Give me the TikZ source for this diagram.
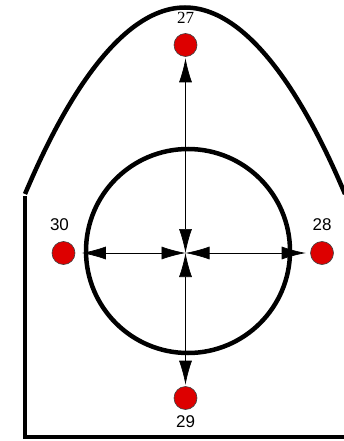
\documentclass[tikz,border=0pt]{standalone}
\usepackage{fontspec}
\setmainfont{Liberation Sans}
\newfontfamily\serifnum{Liberation Serif}
\usetikzlibrary{arrows.meta}
\definecolor{dotred}{RGB}{221,0,0}

\begin{document}
\begin{tikzpicture}[x=1pt, y=-1pt,
    dot/.style={circle, draw=black!75, line width=0.6pt, fill=dotred, minimum size=23pt, inner sep=0pt},
    flow/.style={{Latex[length=24pt,width=13pt]}-{Latex[length=24pt,width=13pt]}, line width=0.7pt, shorten >=1.5pt},
    lbl/.style={inner sep=0pt, font=\fontsize{17}{17}\selectfont},
    wall/.style={line width=4.5pt}]
    % --- 画布范围 (按像素, y 向下) ---
    \clip (0,0) rectangle (344,441);

    % --- 外轮廓 ---
    % 顶部拱形 (抛物线)
    \draw[wall] (25,194) parabola bend (185,7.5) (345,194);
    % 左侧与底边
    \draw[wall, line join=miter] (25,196) -- (25,437) -- (350,437);

    % --- 中间圆 ---
    \draw[wall] (188,251) circle (102);

    % --- 四个测点 ---
    \node[dot, label={[lbl, font=\serifnum\fontsize{17}{17}\selectfont, label distance=9pt]above:27}] (n27) at (185.5,45) {};
    \node[dot, label={[lbl, xshift=-4pt, label distance=10pt]above:30}] (n30) at (63.5,253) {};
    \node[dot, label={[lbl, label distance=10pt]above:28}] (n28) at (322,253) {};
    \node[dot, label={[lbl, label distance=6pt]below:29}] (n29) at (185.5,398) {};

    % --- 中心与双向箭头 ---
    \coordinate (ctr) at (185.5,253);
    \draw[flow] (ctr) -- (n27);
    \draw[flow] (ctr) -- (n29);
    \draw[flow, shorten >=6.5pt] (ctr) -- (n30);
    \draw[flow, shorten >=4.5pt] (ctr) -- (n28);

\end{tikzpicture}
\end{document}
